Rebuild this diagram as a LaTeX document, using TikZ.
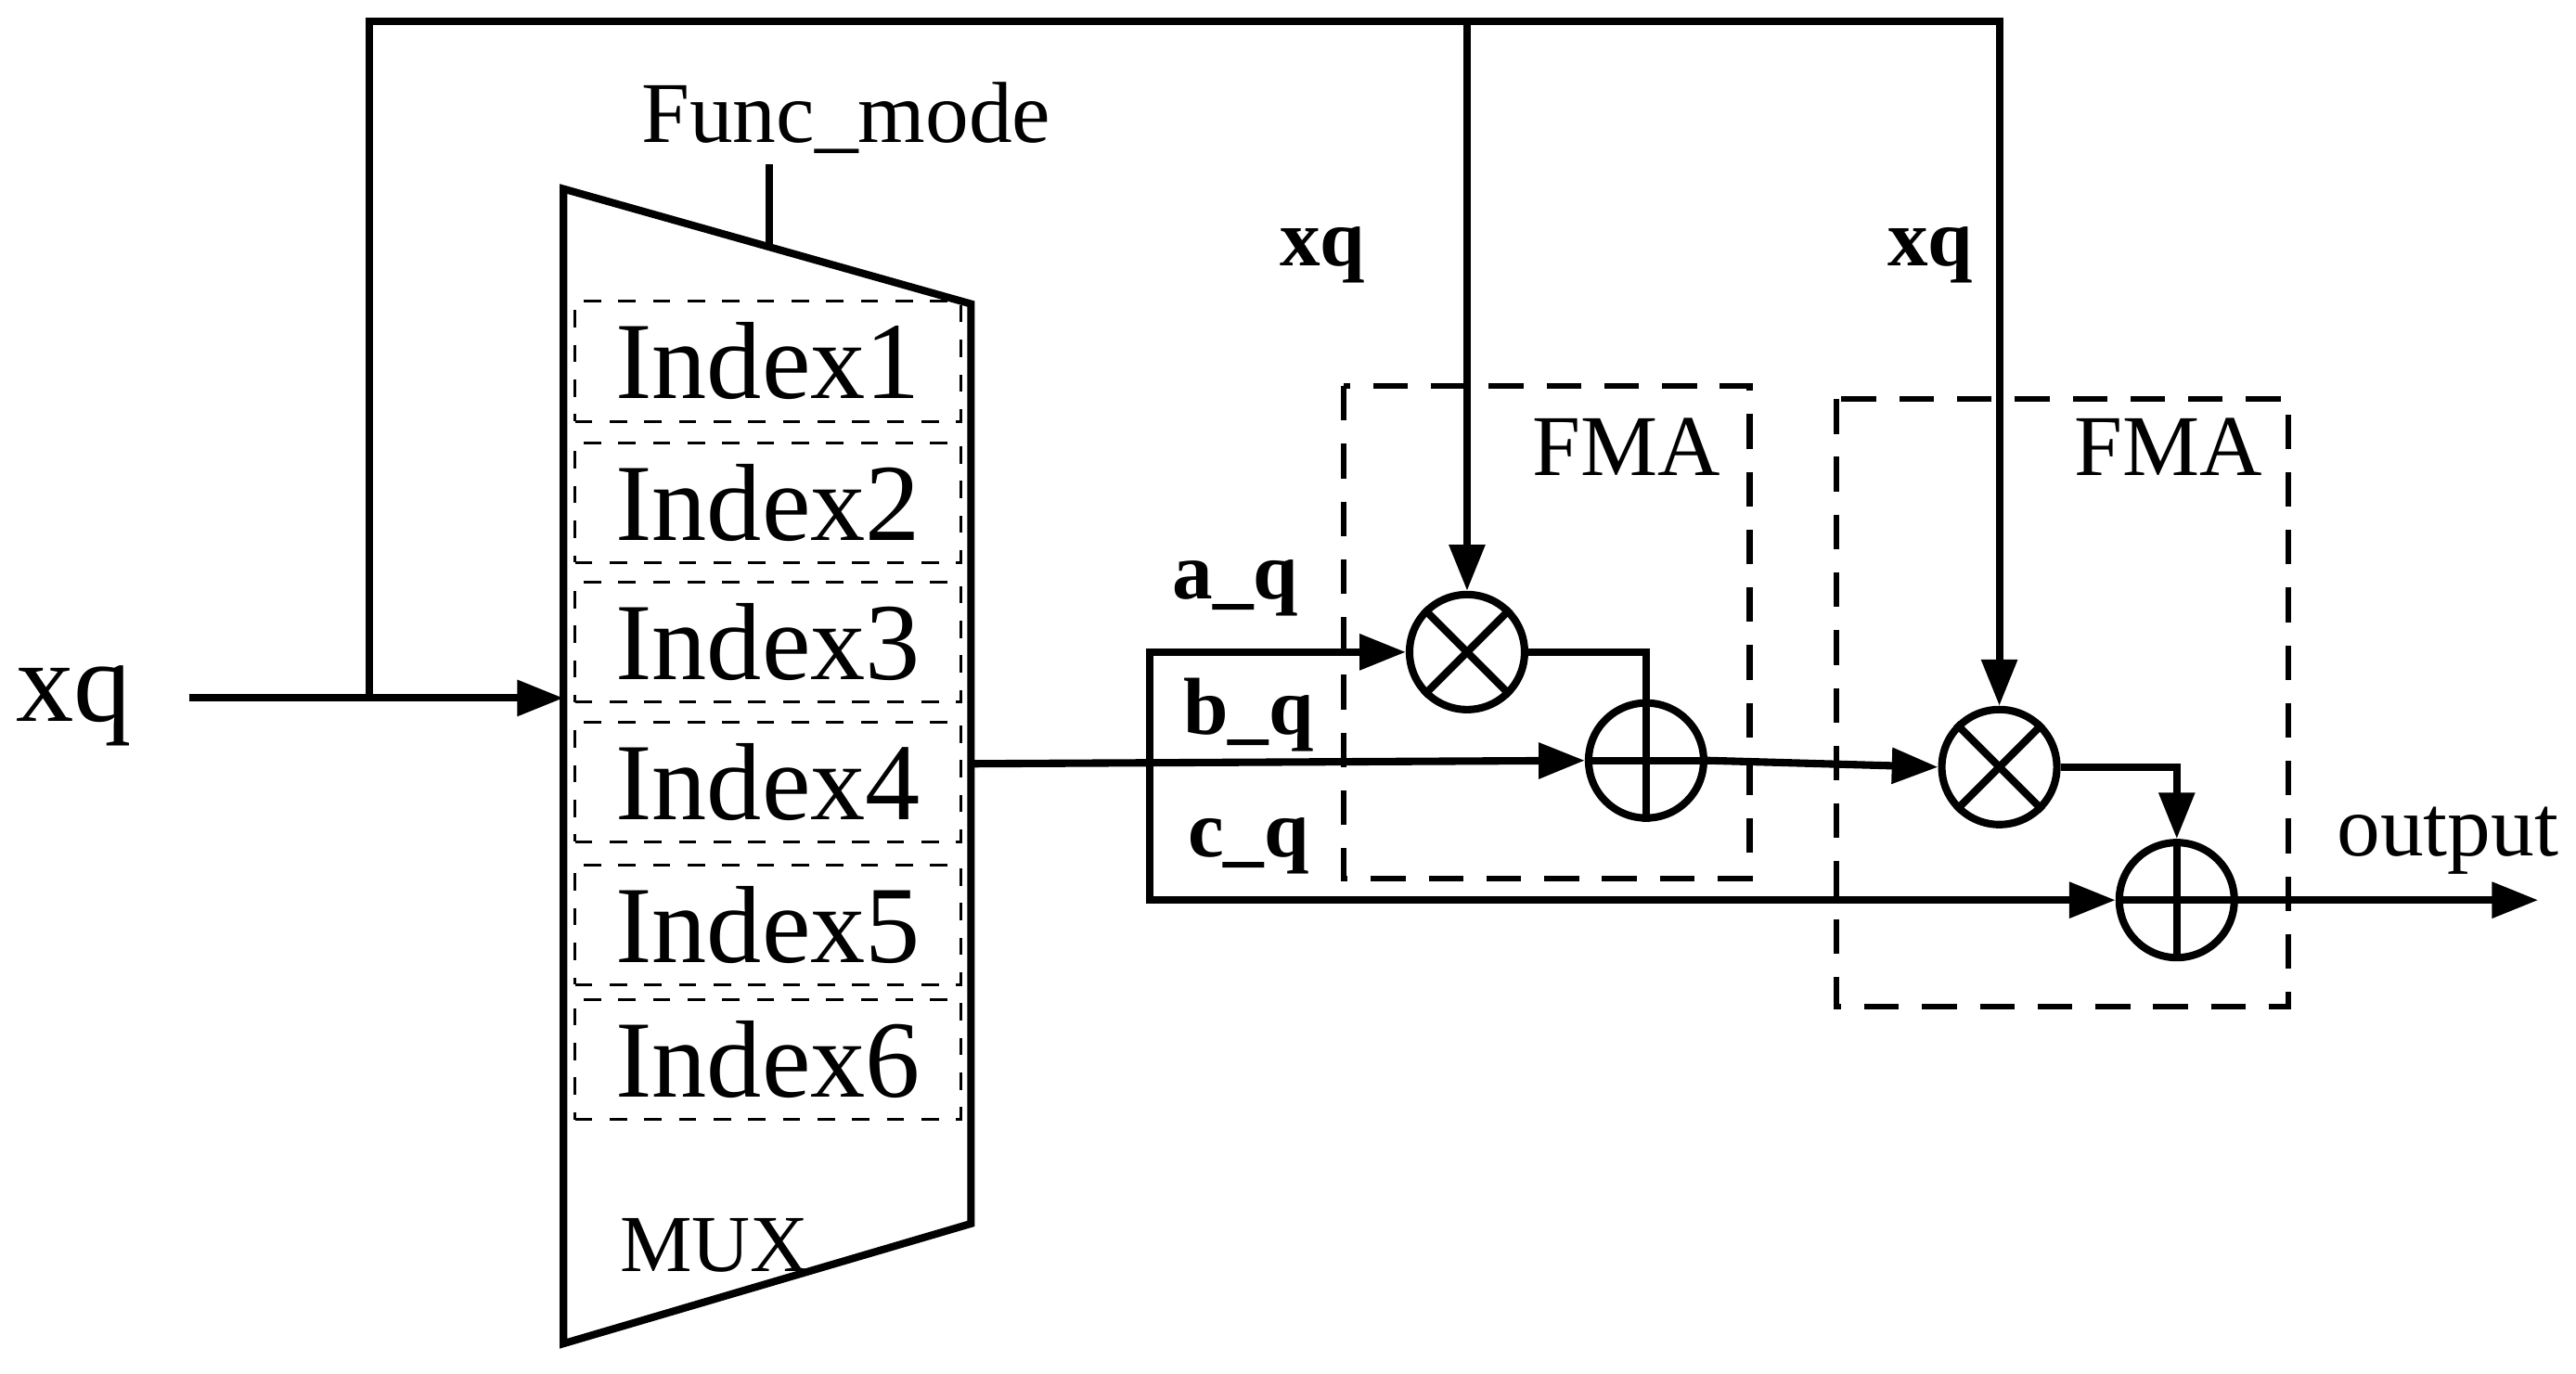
\documentclass[tikz,border=0pt]{standalone}
\usepackage{fontspec}
\setmainfont{Liberation Serif}
\usetikzlibrary{arrows.meta}
\begin{document}
\begin{tikzpicture}[x=0.01cm,y=-0.01cm,
  ln/.style={line width=1.3pt},
  arr/.style={ln,-{Triangle[length=8pt,width=6pt]}},
  op/.style={circle,draw,line width=1.3pt,minimum size=0.7cm,inner sep=0pt},
  idx/.style={draw,dashed,line width=0.5pt,minimum width=2.35cm,minimum height=0.73cm,font=\fontsize{19}{19}\selectfont,inner sep=0pt},
  fma/.style={draw,line width=1pt,dash pattern=on 6pt off 4pt},
  lb/.style={font=\fontsize{14}{14}\selectfont\bfseries}]
\useasboundingbox (0,0) rectangle (1568,836);
% MUX
\draw[ln] (343,115) -- (591,185) -- (591,745) -- (343,818) -- cycle;
\node[font=\fontsize{15}{15}\selectfont] (fm) at (515,72) {Func\_mode};
\draw[ln] (468,150) -- (468,100);
\node[font=\fontsize{14}{14}\selectfont] (mux) at (435,758) {MUX};
\foreach \i/\y in {1/220,2/306,3/391,4/476,5/563,6/645}
  \node[idx] (i\i) at (467.5,\y) {Index\i};
% ops
\node[op] (m1) at (893,397) {};
\node[op] (a1) at (1002,463) {};
\node[op] (m2) at (1217,467) {};
\node[op] (a2) at (1325,548) {};
\foreach \n in {m1,m2} {\draw[ln] (\n.north west) -- (\n.south east); \draw[ln] (\n.north east) -- (\n.south west);}
\foreach \n in {a1,a2} {\draw[ln] (\n.north) -- (\n.south); \draw[ln] (\n.west) -- (\n.east);}
% input
\node[font=\fontsize{20}{20}\selectfont] (xin) at (45,430) {xq};
\coordinate (s0) at (115,425);
\coordinate (mi) at (343,425);
\draw[arr] (s0) -- (mi);
\coordinate (f0) at (225,425);
\draw[arr] (f0) -- (225,13) -- (1217,13) -- (m2.north);
\draw[arr] (893,13) -- (m1.north);
% mux output
\coordinate (mo) at (591,465);
\draw[arr] (mo) -- (a1.west);
\draw[arr] (700,465) -- (700,397) -- (m1.west);
\draw[arr] (700,465) -- (700,548) -- (a2.west);
\draw[ln] (m1.east) -| (a1.north);
\draw[arr] (a1.east) -- (m2.west);
\draw[arr] (m2.east) -| (a2.north);
\coordinate (out) at (1545,548);
\draw[arr] (a2.east) -- (out);
\node[font=\fontsize{15}{15}\selectfont] (ol) at (1490,512) {output};
% FMA boxes
\draw[fma] (818,235) rectangle (1065,535);
\draw[fma] (1118,243) rectangle (1393,613);
\node[font=\fontsize{15}{15}\selectfont] (fa) at (990,272) {FMA};
\node[font=\fontsize{15}{15}\selectfont] (fb) at (1320,272) {FMA};
% labels
\node[lb] (x1) at (805,155) {xq};
\node[lb] (x2) at (1175,155) {xq};
\node[lb] (aq) at (752,358) {a\_q};
\node[lb] (bq) at (760,435) {b\_q};
\node[lb] (cq) at (760,515) {c\_q};
\end{tikzpicture}
\end{document}
